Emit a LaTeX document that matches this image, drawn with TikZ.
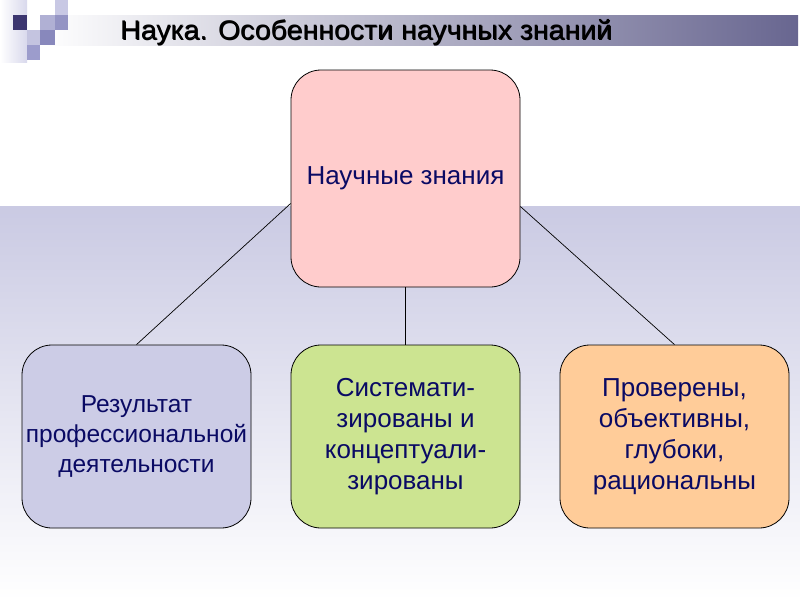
\documentclass[tikz,border=0pt]{standalone}
\usepackage{fontspec}
\setmainfont{Liberation Sans}
\usetikzlibrary{calc}
\definecolor{band}{RGB}{202,202,227}
\definecolor{barR}{RGB}{104,102,144}
\definecolor{titlec}{RGB}{50,28,96}
\definecolor{shadowc}{RGB}{30,20,60}
\definecolor{txt}{RGB}{10,10,100}
\definecolor{pinkc}{RGB}{255,204,204}
\definecolor{lilac}{RGB}{204,204,230}
\definecolor{greenc}{RGB}{204,228,145}
\definecolor{orangec}{RGB}{255,204,153}
\definecolor{sqA}{RGB}{60,54,112}
\definecolor{sqB}{RGB}{176,176,212}
\definecolor{sqC}{RGB}{148,148,196}
\definecolor{sqD}{RGB}{200,200,228}
\definecolor{sqE}{RGB}{136,136,188}
\definecolor{sqF}{RGB}{156,156,204}
\definecolor{sqG}{RGB}{196,196,224}
\newsavebox{\titlebox}
\tikzset{
  rbox/.style={draw=black, line width=0.8pt, rounded corners=30pt, minimum width=229pt,
    text=txt, align=center, font=\fontsize{26}{31}\selectfont, inner sep=0pt},
  link/.style={draw=black, line width=0.7pt},
}
\begin{document}
\sbox{\titlebox}{\fontsize{27}{30}\selectfont Наука. Особенности научных знаний}%
\pgfmathsetmacro{\sx}{492/\the\wd\titlebox}%
\begin{tikzpicture}[x=1pt,y=-1pt]
\useasboundingbox (0,0) rectangle (800,600);
\fill[white] (0,0) rectangle (800,600);
% background band
\shade[top color=band, bottom color=white] (0,206) rectangle (800,600);
% title bar
\shade[left color=white, right color=barR] (40,15) rectangle (798,45);
% squares decoration
\shade[left color=white, right color=sqD!70] (0,0) rectangle (27,62);
\fill[sqA] (13,15) rectangle (27,30);
\fill[sqD] (55,0) rectangle (68,15);
\fill[sqB] (40,15) rectangle (55,30);
\fill[sqC] (55,15) rectangle (68,30);
\fill[sqG] (27,30) rectangle (40,45);
\fill[sqE] (40,30) rectangle (55,45);
\fill[sqF] (27,45) rectangle (40,60);
% title
\node[anchor=base west, text=shadowc, inner sep=0pt] (titleshadow) at (120.8,40.3) {\scalebox{\sx}[1]{\usebox{\titlebox}}};
\node[anchor=base west, text=titlec, inner sep=0pt] (title) at (120,39.5) {\scalebox{\sx}[1]{\usebox{\titlebox}}};
% nodes
\node[rbox, fill=pinkc, minimum height=217pt] (top) at (405.5,178.5) {Научные знания};
\node[rbox, fill=lilac, minimum height=183pt, font=\fontsize{24.5}{30}\selectfont] (left) at (136.5,436.5) {Результат\\профессиональной\\деятельности};
\node[rbox, fill=greenc, minimum height=183pt] (mid) at (405.5,436.5) {Системати-\\зированы и\\концептуали-\\зированы};
\node[rbox, fill=orangec, minimum height=183pt] (right) at (674.5,436.5) {Проверены,\\объективны,\\глубоки,\\рациональны};
% connectors
\draw[link] ([yshift=-25pt]top.west) -- (left.north);
\draw[link] ([yshift=-28pt]top.east) -- (right.north);
\draw[link] (top.south) -- (mid.north);
\end{tikzpicture}
\end{document}
